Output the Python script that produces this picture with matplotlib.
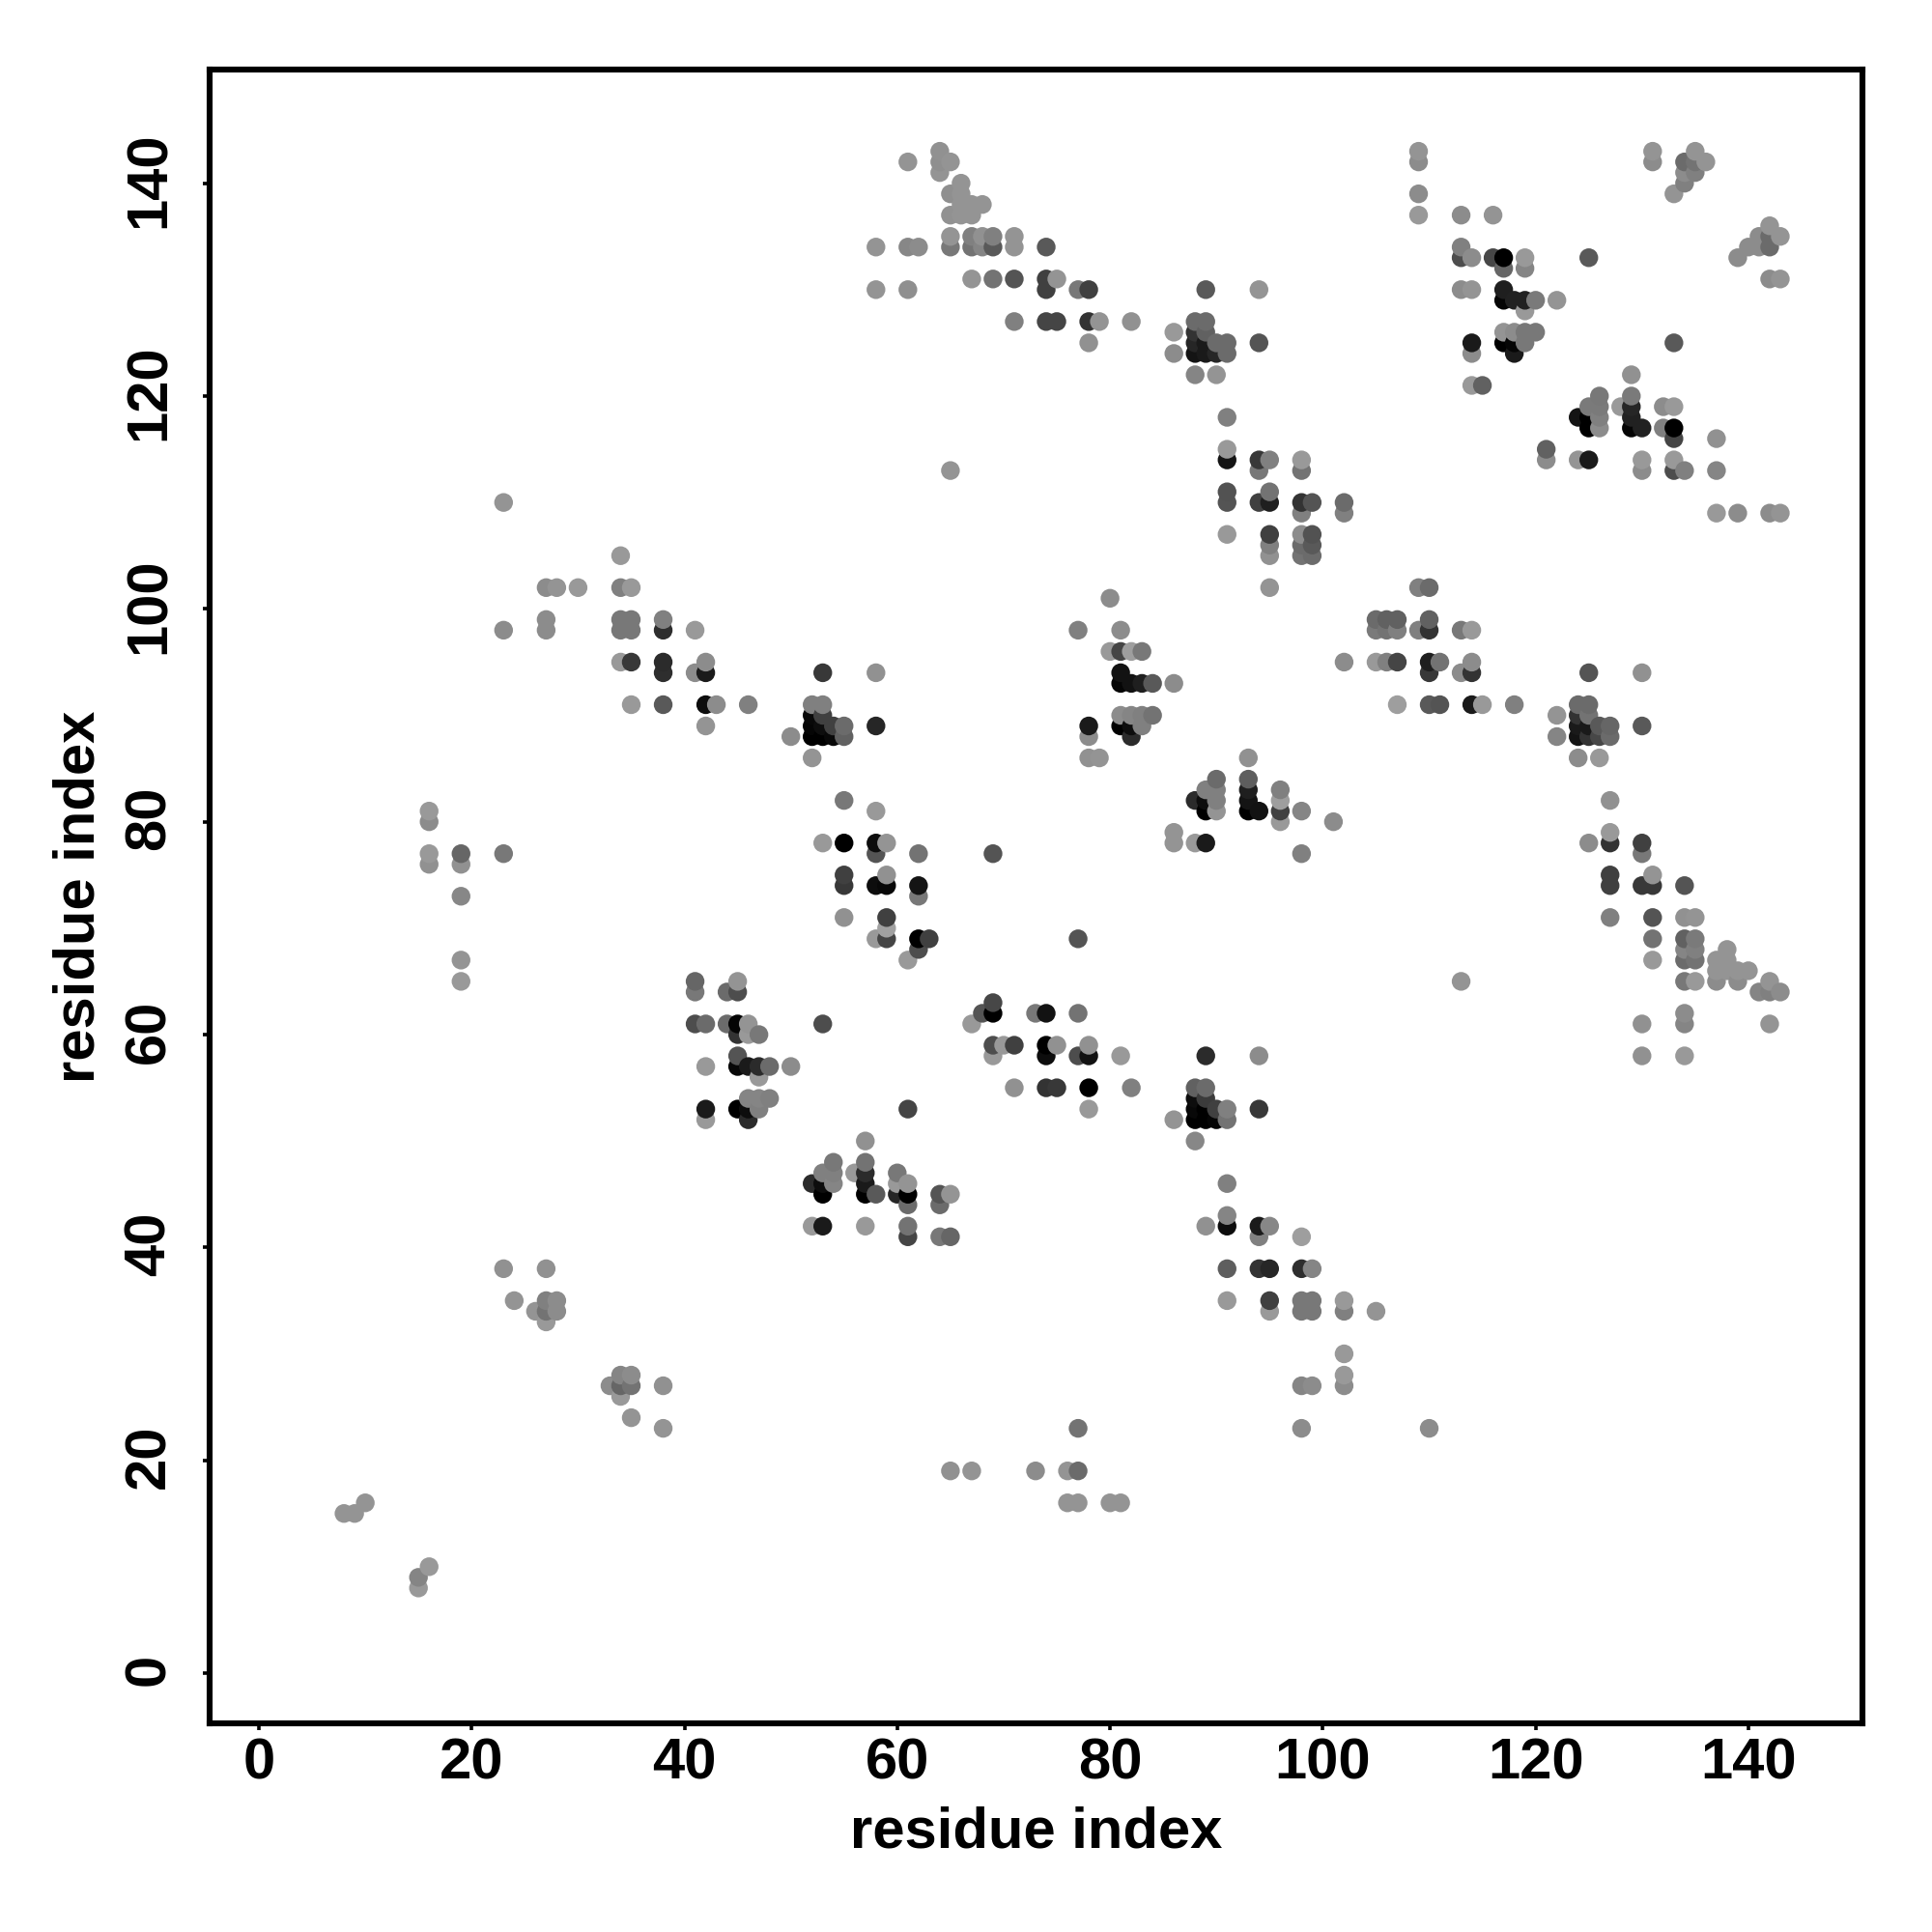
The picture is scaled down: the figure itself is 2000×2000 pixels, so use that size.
import pandas as pd
import matplotlib
matplotlib.use("Agg")
import matplotlib.pyplot as plt
from matplotlib.transforms import ScaledTranslation

# (residue i, residue j, grey level), one list per area
top_left = [
    (61,142,.58),(64,143,.57),(64,142,.56),(64,141,.58),(65,142,.58),(66,140,.58),(65,139,.56),(66,139,.58),
    (66,138,.58),(67,138,.58),(68,138,.58),(65,137,.57),(66,137,.58),(67,137,.58),
    (65,135,.58),(67,135,.5),(68,135,.57),(69,135,.5),(71,135,.58),
    (58,134,.58),(61,134,.53),(62,134,.55),(65,134,.47),(67,134,.45),(68,134,.52),(69,134,.35),(71,134,.58),(74,134,.35),
    (67,131,.58),(69,131,.45),(71,131,.33),(74,131,.25),(75,131,.58),
    (58,130,.58),(61,130,.56),(74,130,.25),(77,130,.47),(78,130,.25),(89,130,.35),(94,130,.58),
    (71,127,.5),(74,127,.27),(75,127,.27),(78,127,.2),(79,127,.58),(82,127,.57),
    (88,127,.42),(89,127,.42),(86,126,.6),(88,126,.2),(89,126,.38),
    (78,125,.57),(88,125,.15),(89,125,.1),(90,125,.42),(91,125,.42),(94,125,.33),
    (86,124,.55),(88,124,.08),(89,124,.1),(90,124,.15),(91,124,.42),(88,122,.52),(90,122,.58),
]
mid_helix = [
    (91,118,.5),(91,115,.6),(91,114,.08),(94,114,.22),(95,114,.5),(98,114,.6),
    (65,113,.58),(94,113,.47),(98,113,.45),(91,111,.32),(95,111,.45),
    (91,110,.33),(94,110,.25),(95,110,.12),(98,110,.2),(99,110,.33),(102,110,.42),(98,109,.5),(102,109,.5),
    (91,107,.6),(95,107,.25),(98,107,.55),(99,107,.32),(95,106,.5),(98,106,.42),(99,106,.35),
    (95,105,.57),(98,105,.45),(99,105,.42),(95,102,.58),
]
top_right = [
    (109,143,.58),(109,142,.55),(109,139,.55),(109,137,.6),(113,137,.55),(116,137,.58),
    (113,134,.5),(113,133,.3),(114,133,.55),(116,133,.28),(117,133,.0),(119,133,.6),(117,132,.4),(119,132,.52),(125,133,.35),
    (113,130,.55),(114,130,.58),(117,130,.12),(117,129,.02),(118,129,.13),(119,129,.13),(120,129,.48),(122,129,.58),(119,128,.6),
    (117,126,.58),(118,126,.55),(119,126,.47),(120,126,.47),
    (114,125,.1),(117,125,.0),(118,125,.02),(119,125,.47),(133,125,.35),(114,124,.55),(118,124,.1),
    (129,122,.57),(114,121,.6),(115,121,.38),(126,120,.47),(129,120,.48),
    (125,119,.48),(126,119,.48),(128,119,.6),(129,119,.15),(132,119,.55),(133,119,.6),
    (124,118,.08),(125,118,.0),(126,118,.5),(129,118,.13),
    (125,117,.0),(126,117,.55),(129,117,.02),(130,117,.13),(132,117,.5),(133,117,.0),
    (133,116,.27),(137,116,.57),(121,115,.38),(121,114,.55),(124,114,.58),(125,114,.1),(130,114,.6),(133,114,.6),
    (130,113,.55),(133,113,.3),(134,113,.5),(137,113,.52),
    (137,109,.6),(139,109,.55),(142,109,.55),(143,109,.58),
    (131,143,.58),(131,142,.55),(135,143,.58),(134,142,.42),(135,142,.45),(136,142,.58),
    (134,141,.55),(135,141,.5),(134,140,.5),(133,139,.58),
    (142,136,.58),(141,135,.55),(142,135,.42),(143,135,.58),(140,134,.55),(141,134,.55),(142,134,.42),(139,133,.55),
    (142,131,.55),(143,131,.58),
]
left_block = [
    (23,110,.58),(34,105,.6),(27,102,.55),(28,102,.58),(30,102,.6),(34,102,.5),(35,102,.6),
    (27,99,.55),(34,99,.47),(35,99,.47),(38,99,.5),
    (23,98,.55),(27,98,.55),(34,98,.47),(35,98,.47),(38,98,.18),(41,98,.6),
    (34,95,.6),(35,95,.22),(38,95,.17),(42,95,.55),(38,94,.18),(41,94,.55),(42,94,.1),(53,94,.22),(58,94,.57),
    (35,91,.6),(38,91,.35),(42,91,.05),(43,91,.55),(46,91,.5),(52,91,.5),(53,91,.5),
    (52,90,.03),(53,90,.25),(42,89,.58),(52,89,.02),(53,89,.05),(54,89,.25),(55,89,.42),(58,89,.15),
    (50,88,.55),(52,88,.0),(53,88,.0),(54,88,.03),(55,88,.38),(52,86,.58),
    (55,82,.47),(16,81,.6),(58,81,.6),(16,80,.55),
    (53,78,.6),(55,78,.0),(58,78,.05),(59,78,.58),
    (16,77,.6),(19,77,.4),(23,77,.47),(58,77,.33),(62,77,.45),(16,76,.57),(19,76,.57),
    (55,75,.25),(59,75,.57),(55,74,.22),(58,74,.05),(59,74,.03),(62,74,.08),(19,73,.53),(62,73,.47),
    (55,71,.57),(59,71,.25),(59,70,.63),(58,69,.6),(59,69,.27),(62,69,.0),(63,69,.25),(62,68,.3),
    (19,67,.58),(61,67,.6),(19,65,.6),
]
center = [
    (80,101,.55),(77,98,.5),(81,98,.55),(80,96,.6),(81,96,.27),(82,96,.62),(83,96,.47),(81,94,.07),
    (81,93,.02),(82,93,.07),(83,93,.12),(84,93,.35),(86,93,.55),
    (81,90,.55),(82,90,.52),(83,90,.5),(84,90,.45),(78,89,.1),(81,89,.0),(82,89,.05),(83,89,.5),
    (78,88,.55),(82,88,.17),(78,86,.57),(79,86,.58),(93,86,.57),(90,84,.42),(93,84,.37),
    (89,83,.5),(90,83,.5),(93,83,.12),(96,83,.5),(88,82,.17),(89,82,.05),(90,82,.5),(93,82,.08),(96,82,.62),
    (89,81,.0),(90,81,.58),(93,81,.0),(94,81,.07),(96,81,.25),(98,81,.52),(96,80,.6),(101,80,.55),
    (86,79,.58),(86,78,.58),(88,78,.6),(89,78,.1),(69,77,.33),(98,77,.5),(77,69,.33),
]
right_block = [
    (109,102,.5),(110,102,.42),(105,99,.42),(106,99,.38),(107,99,.38),(110,99,.38),
    (105,98,.48),(106,98,.45),(107,98,.5),(109,98,.5),(110,98,.2),(113,98,.47),(114,98,.6),
    (102,95,.55),(105,95,.6),(106,95,.5),(107,95,.27),(110,95,.12),(111,95,.45),(114,95,.55),
    (110,94,.22),(113,94,.55),(114,94,.2),(125,94,.33),(130,94,.57),
    (107,91,.62),(110,91,.35),(111,91,.33),(114,91,.1),(115,91,.6),(118,91,.5),(124,91,.42),(125,91,.42),
    (122,90,.58),(124,90,.2),(125,90,.45),(124,89,.1),(125,89,.1),(126,89,.35),(127,89,.4),(130,89,.35),
    (122,88,.52),(124,88,.08),(125,88,.2),(126,88,.28),(127,88,.42),(124,86,.55),(126,86,.6),
    (127,82,.57),(127,79,.6),(125,78,.55),(127,78,.2),(130,78,.25),(130,77,.47),
    (127,75,.25),(131,75,.58),(127,74,.25),(130,74,.22),(131,74,.22),(134,74,.33),
    (127,71,.5),(131,71,.33),(134,71,.57),(135,71,.58),(131,69,.45),(134,69,.38),(135,69,.48),
    (134,68,.52),(135,68,.5),(138,68,.58),(131,67,.6),(134,67,.42),(135,67,.45),(137,67,.58),(138,67,.58),
    (137,66,.58),(138,66,.58),(139,66,.58),(140,66,.58),
    (113,65,.58),(134,65,.47),(135,65,.6),(137,65,.55),(139,65,.55),(142,65,.58),
    (141,64,.52),(142,64,.5),(143,64,.55),(134,62,.55),(130,61,.57),(134,61,.52),(142,61,.58),(130,58,.57),(134,58,.6),
]
lower_mid = [
    (41,65,.4),(45,65,.58),(41,64,.47),(44,64,.42),(45,64,.3),
    (41,61,.3),(42,61,.42),(44,61,.42),(45,61,.02),(46,61,.58),(53,61,.3),(45,60,.2),(46,60,.6),(47,60,.47),
    (45,58,.33),(42,57,.6),(45,57,.03),(46,57,.1),(47,57,.17),(48,57,.42),(50,57,.55),(47,56,.6),
    (46,54,.52),(47,54,.52),(48,54,.5),(42,53,.1),(45,53,.0),(46,53,.05),(47,53,.5),(61,53,.27),(42,52,.6),(46,52,.17),
    (69,63,.28),(68,62,.33),(69,62,.0),(73,62,.47),(74,62,.07),(77,62,.45),(67,61,.6),
    (69,59,.3),(70,59,.6),(71,59,.25),(74,59,.0),(75,59,.57),(78,59,.57),
    (69,58,.6),(74,58,.05),(77,58,.3),(78,58,.07),(81,58,.6),(89,58,.17),(94,58,.55),
    (71,55,.57),(74,55,.2),(75,55,.22),(78,55,.0),(82,55,.5),(88,55,.38),(89,55,.42),
    (88,54,.05),(89,54,.23),(78,53,.6),(88,53,.03),(89,53,.0),(90,53,.25),(91,53,.5),(94,53,.22),
    (86,52,.58),(88,52,.0),(89,52,.0),(90,52,.02),(91,52,.45),(88,50,.53),
]
lower_right = [
    (91,46,.5),(91,43,.52),(89,42,.57),(91,42,.05),(94,42,.1),(95,42,.53),(94,41,.5),(98,41,.62),
    (91,38,.37),(94,38,.2),(95,38,.15),(98,38,.18),(99,38,.52),
    (91,35,.6),(95,35,.25),(98,35,.47),(99,35,.47),(102,35,.6),(95,34,.6),(98,34,.47),(99,34,.47),(102,34,.5),(105,34,.58),
    (102,30,.6),(102,28,.6),(102,27,.55),(98,27,.52),(99,27,.55),(98,23,.55),(110,23,.55),
]
bottom_mid = [
    (57,50,.57),(54,48,.47),(57,48,.45),(53,47,.5),(54,47,.5),(56,47,.6),(57,47,.17),(60,47,.47),
    (52,46,.17),(53,46,.05),(54,46,.52),(57,46,.1),(60,46,.6),(61,46,.58),
    (53,45,.0),(57,45,.0),(58,45,.35),(60,45,.15),(61,45,.0),(64,45,.33),(65,45,.58),(61,44,.42),(64,44,.42),
    (52,42,.6),(53,42,.1),(57,42,.6),(61,42,.45),(61,41,.27),(64,41,.47),(65,41,.4),
]
bottom_left = [
    (23,38,.57),(27,38,.57),(24,35,.58),(27,35,.5),(28,35,.55),(26,34,.58),(27,34,.45),(28,34,.55),(27,33,.6),
    (33,27,.55),(34,28,.52),(35,28,.55),(34,27,.4),(35,27,.45),(34,26,.6),(35,24,.58),(38,27,.57),(38,23,.58),
    (65,19,.57),(67,19,.58),(73,19,.55),(76,19,.58),(77,19,.42),(77,23,.45),(76,16,.58),(77,16,.58),(80,16,.58),(81,16,.58),
    (8,15,.58),(9,15,.58),(10,16,.58),(16,10,.6),(15,9,.52),(15,8,.6),
]

tick_values = [0, 20, 40, 60, 80, 100, 120, 140]
axis_label = "residue index"

plt.rcParams["font.family"] = ["Liberation Sans", "DejaVu Sans"]
plt.rcParams["font.weight"] = "bold"


def main():
    groups = [top_left, mid_helix, top_right, left_block, center, right_block,
              lower_mid, lower_right, bottom_mid, bottom_left]
    rows = [row for g in groups for row in g]
    df = pd.DataFrame(rows, columns=["i", "j", "grey"])
    df = df.sort_values(by=["i", "j"])  # later points sit on top

    fig = plt.figure(figsize=(20, 20), dpi=100)
    ax = fig.add_axes([217 / 2000, 1 - 1784 / 2000, 1711 / 2000, 1712 / 2000])

    ax.scatter(df["i"], df["j"], c=[str(g) for g in df["grey"]], s=195, linewidths=0, zorder=3)

    ax.set_xlim(-4.63, 150.72)
    ax.set_ylim(-4.72, 150.68)
    ax.set_xticks(tick_values)
    ax.set_yticks(tick_values)
    ax.tick_params(axis="both", length=5, width=2.6, labelsize=43)
    ax.tick_params(axis="x", pad=5.5)
    ax.tick_params(axis="y", pad=20)
    shift_up = ScaledTranslation(0, 2.5 / 72, fig.dpi_scale_trans)
    for t in ax.get_yticklabels():
        t.set_rotation(90)
        t.set_va("center")
        t.set_transform(t.get_transform() + shift_up)
    for s in ax.spines.values():
        s.set_linewidth(4.4)

    ax.set_xlabel(axis_label, fontsize=43, fontweight="bold")
    ax.set_ylabel(axis_label, fontsize=43, fontweight="bold")
    ax.xaxis.set_label_coords(0.5, -0.05)
    ax.yaxis.set_label_coords(-0.063, 0.5)

    fig.savefig("out.png", dpi=100, facecolor="white")


if __name__ == "__main__":
    main()
